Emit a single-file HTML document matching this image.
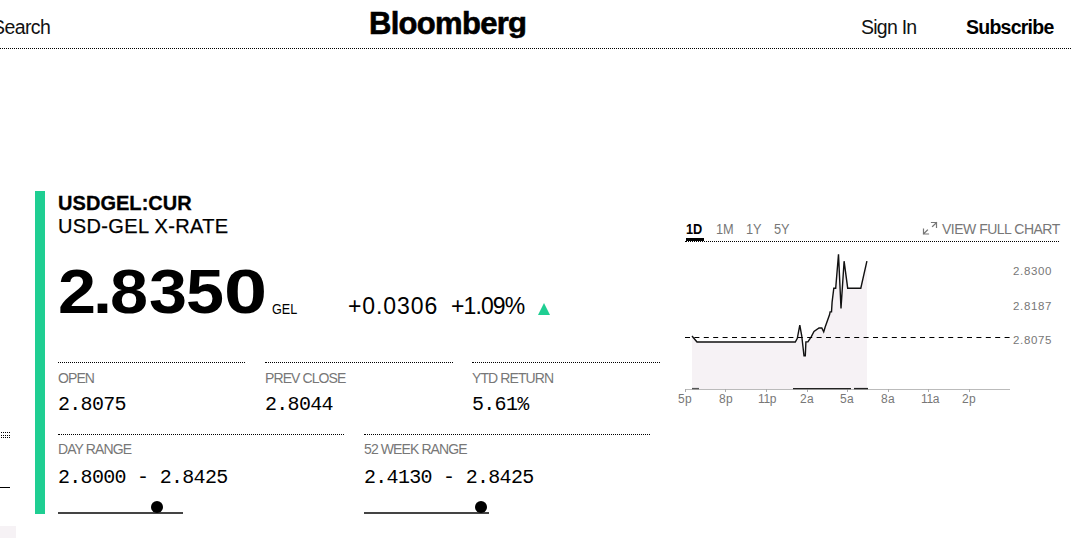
<!DOCTYPE html>
<html><head><meta charset="utf-8">
<style>
*{margin:0;padding:0;box-sizing:border-box}
html,body{width:1072px;height:538px;overflow:hidden;background:#fff;font-family:"Liberation Sans",sans-serif;color:#000}
.a{position:absolute;white-space:nowrap}
.hdr{position:absolute;left:0;top:48px;width:1071px;height:1px;border-top:1px dotted #000}
.search{left:-8px;top:14px;font-size:19.5px;line-height:26px;color:#111;letter-spacing:-0.6px}
.logo{left:369px;top:3.5px;font-size:31px;font-weight:bold;letter-spacing:-0.7px;line-height:40px;-webkit-text-stroke:0.6px #000}
.signin{left:861px;top:14px;font-size:19.5px;line-height:26px;color:#111;letter-spacing:-0.75px}
.subscribe{left:966px;top:14px;font-size:19.5px;font-weight:bold;line-height:26px;letter-spacing:-0.75px}
.bar{position:absolute;left:35px;top:191px;width:10px;height:323px;background:#1fce92}
.tick{left:58px;top:191px;font-size:20px;font-weight:bold;line-height:24px;letter-spacing:0.05px;-webkit-text-stroke:0.3px #000}
.name{left:58px;top:214px;font-size:20px;line-height:24px;letter-spacing:0.35px;-webkit-text-stroke:0.25px #000}
.price{left:58px;top:256px;font-size:63px;font-weight:bold;line-height:70px;letter-spacing:-0.1px;transform:scaleX(1.085);transform-origin:0 0}
.p0{transform:scaleX(1.23)!important}
.cur{left:272px;top:301px;font-size:14.5px;line-height:16px;transform:scaleX(0.87);transform-origin:0 0}
.chg{left:348px;top:292px;font-size:23px;line-height:28px;letter-spacing:0.9px}
.pct{left:451px;top:292px;font-size:23px;line-height:28px;letter-spacing:-0.9px}
.tri{position:absolute;left:538px;top:303px;width:0;height:0;border-left:6px solid transparent;border-right:6px solid transparent;border-bottom:12px solid #1fce92}
.dl{position:absolute;height:1px;border-top:1px dotted #000}
.lbl{font-size:14px;color:#777;line-height:16px;letter-spacing:-0.9px}
.val{font-family:"Liberation Mono",monospace;font-size:20px;letter-spacing:-0.7px;line-height:22px;color:#000;transform:scaleY(1.05);transform-origin:0 19px}
.sl{position:absolute;height:2px;background:#444}
.dot{position:absolute;width:12px;height:12px;border-radius:50%;background:#000}
.tab{font-size:14.5px;line-height:16px;color:#777;letter-spacing:-0.2px;transform:scaleX(0.88);transform-origin:0 0}
.yl{font-size:11.5px;line-height:14px;color:#777;letter-spacing:0.65px}
.xl{font-size:12px;line-height:14px;color:#777;letter-spacing:0.3px}
</style></head><body>
<div class="a search">Search</div>
<div class="a logo">Bloomber<span style="display:inline-block;transform:scaleY(0.9);transform-origin:0 13px">g</span></div>
<div class="a signin">Sign In</div>
<div class="a subscribe">Subscribe</div>
<div class="hdr"></div>

<div class="bar"></div>
<div class="a tick">USDGEL:CUR</div>
<div class="a name">USD-GEL X-RATE</div>
<div class="a price" style="left:58px">2</div>
<div class="a price" style="left:93px">.</div>
<div class="a price" style="left:110px">8</div>
<div class="a price" style="left:149px">3</div>
<div class="a price" style="left:186px">5</div>
<div class="a price p0" style="left:224px">0</div>
<div class="a cur">GEL</div>
<div class="a chg">+0.0306</div>
<div class="a pct">+1.09%</div>
<div class="tri"></div>

<div class="dl" style="left:58px;top:362px;width:187px"></div>
<div class="dl" style="left:265px;top:362px;width:188px"></div>
<div class="dl" style="left:472px;top:362px;width:188px"></div>
<div class="a lbl" style="left:58px;top:370px">OPEN</div>
<div class="a lbl" style="left:265px;top:370px">PREV CLOSE</div>
<div class="a lbl" style="left:472px;top:370px">YTD RETURN</div>
<div class="a val" style="left:58px;top:394px">2.8075</div>
<div class="a val" style="left:265px;top:394px">2.8044</div>
<div class="a val" style="left:472px;top:394px">5.61%</div>

<div class="dl" style="left:58px;top:434px;width:286px"></div>
<div class="dl" style="left:364px;top:434px;width:286px"></div>
<div class="a lbl" style="left:58px;top:441px">DAY RANGE</div>
<div class="a lbl" style="left:364px;top:441px">52 WEEK RANGE</div>
<div class="a val" style="left:58px;top:467px">2.8000 - 2.8425</div>
<div class="a val" style="left:364px;top:467px">2.4130 - 2.8425</div>
<div class="sl" style="left:58px;top:512px;width:125px"></div>
<div class="dot" style="left:151px;top:500.5px"></div>
<div class="sl" style="left:364px;top:512px;width:125px"></div>
<div class="dot" style="left:475px;top:500.5px"></div>

<!-- chart -->
<div class="a tab" style="left:686px;top:221px;font-weight:bold;color:#000">1D</div>
<div style="position:absolute;left:686px;top:238px;width:18px;height:3px;background:#000"></div>
<div class="a tab" style="left:716px;top:221px">1M</div>
<div class="a tab" style="left:746px;top:221px">1Y</div>
<div class="a tab" style="left:774px;top:221px">5Y</div>
<div class="a tab" style="left:942px;top:221px;font-size:14px;letter-spacing:-0.5px;transform:none">VIEW FULL CHART</div>
<svg style="position:absolute;left:920px;top:219px" width="20" height="18" viewBox="0 0 20 18">
<g fill="none" stroke="#777" stroke-width="1.2" stroke-linecap="square">
<path d="M16.5 3.5 L12.5 7.5 M11.5 3.5 H16.5 V8.5"/>
<path d="M3.5 15 L7.5 11 M3.5 10 V15 H8.5"/>
</g></svg>
<div class="dl" style="left:685px;top:241px;width:374px"></div>

<svg style="position:absolute;left:0;top:0" width="1072" height="538">
<polygon fill="#f6f2f5" points="692,336 697,342 795.3,342 797.3,338.3 799.8,325.2 801.7,335.5 804,355.9 805.3,355.9 805.9,341.9 807.9,341.9 811.2,336.9 814,331.4 819,328 821.8,328 823.7,331.9 825.1,327.2 829.6,314.6 830.1,311.9 831.5,311.9 832.1,302.1 833.8,288.2 835.7,288.2 838.5,254.2 841,308.5 844.1,261.2 847.7,288.2 860.8,288.2 866.9,261.2 867,389 692,389"/>
<polyline fill="none" stroke="#111" stroke-width="1.4" stroke-linejoin="miter" points="692,336 697,342 795.3,342 797.3,338.3 799.8,325.2 801.7,335.5 804,355.9 805.3,355.9 805.9,341.9 807.9,341.9 811.2,336.9 814,331.4 819,328 821.8,328 823.7,331.9 825.1,327.2 829.6,314.6 830.1,311.9 831.5,311.9 832.1,302.1 833.8,288.2 835.7,288.2 838.5,254.2 841,308.5 844.1,261.2 847.7,288.2 860.8,288.2 866.9,261.2"/>
<line x1="685" y1="337.5" x2="1010" y2="337.5" stroke="#000" stroke-width="1" stroke-dasharray="5,4.4"/>
<line x1="685" y1="389.5" x2="1010" y2="389.5" stroke="#bbb" stroke-width="1"/>
<g stroke="#aaa" stroke-width="1"><line x1="685.5" y1="389" x2="685.5" y2="392"/><line x1="725.5" y1="389" x2="725.5" y2="392"/><line x1="766.5" y1="389" x2="766.5" y2="392"/><line x1="807.5" y1="389" x2="807.5" y2="392"/><line x1="847.5" y1="389" x2="847.5" y2="392"/><line x1="888.5" y1="389" x2="888.5" y2="392"/><line x1="928.5" y1="389" x2="928.5" y2="392"/><line x1="969.5" y1="389" x2="969.5" y2="392"/></g>
<g stroke="#222" stroke-width="1.4">
<line x1="692" y1="388.6" x2="699" y2="388.6" stroke="#555"/><line x1="793" y1="388.6" x2="851" y2="388.6"/><line x1="854" y1="388.6" x2="868" y2="388.6"/>
</g>
</svg>
<div class="a yl" style="left:1013px;top:264px">2.8300</div>
<div class="a yl" style="left:1013px;top:299px">2.8187</div>
<div class="a yl" style="left:1013px;top:333px">2.8075</div>
<div class="a xl" style="top:392px;left:678px">5p</div>
<div class="a xl" style="top:392px;left:719px">8p</div>
<div class="a xl" style="top:392px;left:758px;letter-spacing:-0.4px">11p</div>
<div class="a xl" style="top:392px;left:800px">2a</div>
<div class="a xl" style="top:392px;left:840px">5a</div>
<div class="a xl" style="top:392px;left:881px">8a</div>
<div class="a xl" style="top:392px;left:921px;letter-spacing:-0.4px">11a</div>
<div class="a xl" style="top:392px;left:962px">2p</div>

<!-- left edge bits -->
<svg style="position:absolute;left:0;top:0" width="12" height="440" fill="#000"><rect x="1" y="432" width="1" height="1"/><rect x="3" y="432" width="1" height="1"/><rect x="5" y="432" width="1" height="1"/><rect x="7" y="432" width="1" height="1"/><rect x="9" y="432" width="1" height="1"/><rect x="1" y="435" width="1" height="1"/><rect x="3" y="435" width="1" height="1"/><rect x="5" y="435" width="1" height="1"/><rect x="7" y="435" width="1" height="1"/><rect x="9" y="435" width="1" height="1"/><rect x="1" y="437" width="1" height="1"/><rect x="3" y="437" width="1" height="1"/><rect x="5" y="437" width="1" height="1"/><rect x="7" y="437" width="1" height="1"/><rect x="9" y="437" width="1" height="1"/></svg>
<div style="position:absolute;left:0;top:487px;width:10px;height:1px;background:#000"></div>
<div style="position:absolute;left:0;top:526px;width:16px;height:12px;background:#f6f2f5"></div>
</body></html>
